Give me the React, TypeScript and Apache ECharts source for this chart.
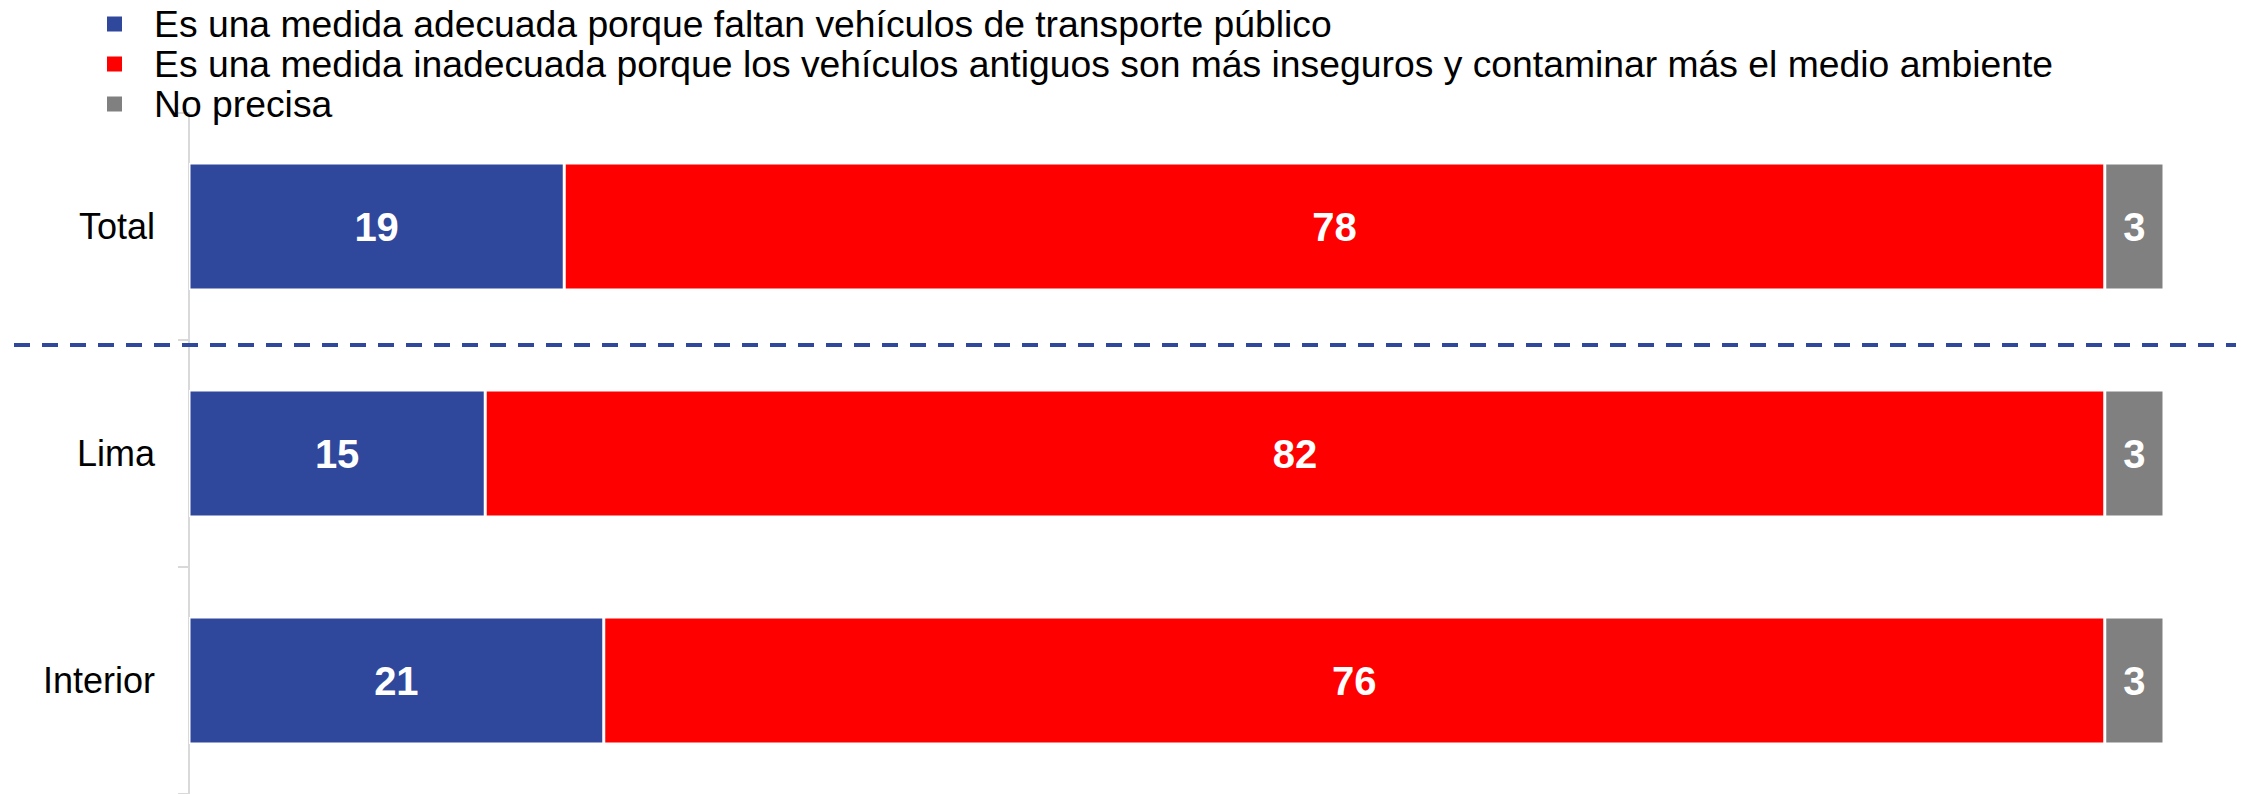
import React, { useEffect, useRef } from "react";
import * as echarts from "echarts";

const categories = ["Total", "Lima", "Interior"];
const seriesNames = [
  "Es una medida adecuada porque faltan vehículos de transporte público",
  "Es una medida inadecuada porque los vehículos antiguos son más inseguros y contaminar más el medio ambiente",
  "No precisa",
];
const adecuada = [19, 15, 21];
const inadecuada = [78, 82, 76];
const noPrecisa = [3, 3, 3];
const colors = ["#30489C", "#FF0000", "#808080"];

export default function App() {
  const ref = useRef<HTMLDivElement>(null);
  useEffect(() => {
    if (!ref.current) return;
    const chart = echarts.init(ref.current, undefined, { renderer: "svg" });
    const values = [adecuada, inadecuada, noPrecisa];
    const font = "'Liberation Sans', Arial, sans-serif";
    chart.setOption({
      animation: false,
      backgroundColor: "#ffffff",
      textStyle: { fontFamily: font },
      legend: {
        orient: "vertical",
        left: 100,
        top: -1,
        itemGap: 0,
        itemWidth: 69,
        itemHeight: 17,
        symbolKeepAspect: true,
        icon: "path://M0,0h10v10h-10z",
        textStyle: { fontSize: 37.3, color: "#000", lineHeight: 40, fontFamily: font },
        data: seriesNames,
      },
      grid: { left: 189, right: 83, top: 113, height: 684, containLabel: false },
      xAxis: { type: "value", min: 0, max: 100, show: false },
      yAxis: {
        type: "category",
        data: categories,
        inverse: true,
        axisLine: { show: true, lineStyle: { color: "#D9D9D9", width: 2 } },
        axisTick: { show: true, length: 11, lineStyle: { color: "#D9D9D9", width: 2 } },
        axisLabel: { fontSize: 36, color: "#000", margin: 34, fontFamily: font },
        splitLine: { show: false },
      },
      graphic: [
        {
          type: "line",
          z: 10,
          shape: { x1: 14, y1: 345, x2: 2236, y2: 345 },
          style: { stroke: "#30489C", lineWidth: 4, lineDash: [16, 12] },
        },
      ],
      series: seriesNames.map((name, i) => ({
        name,
        type: "bar",
        stack: "total",
        barCategoryGap: "44%",
        data: values[i],
        itemStyle: { color: colors[i], borderColor: "#ffffff", borderWidth: 1.5 },
        label: {
          show: true,
          position: "inside",
          color: "#fff",
          fontWeight: "bold",
          fontSize: 40,
          fontFamily: font,
        },
      })),
    });
    return () => chart.dispose();
  }, []);
  return (
    <div
      ref={ref}
      style={{ position: "fixed", left: 0, top: 0, width: 2247, height: 794 }}
    />
  );
}
